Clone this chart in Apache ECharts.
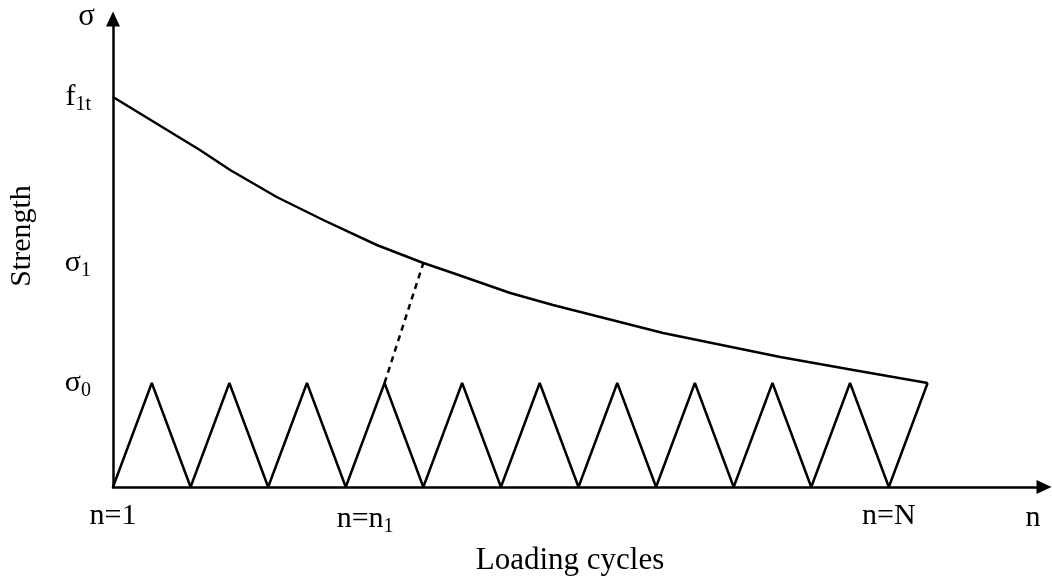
<!DOCTYPE html>
<html>
<head>
<meta charset="utf-8">
<script src="https://cdn.jsdelivr.net/npm/echarts@6/dist/echarts.min.js"></script>
<style>
  html, body { margin: 0; padding: 0; background: #fff; }
  #chart { width: 1052px; height: 583px; }
</style>
</head>
<body>
<div id="chart"></div>
<script>
// Strength degradation curve (n, strength)
const strengthN = [0, 1.12, 1.51, 2.11, 2.71, 3.40, 4.0, 4.38, 5.12, 5.67, 7.09, 8.60, 9.54, 10.5];
const strengthS = [390, 337, 317, 290, 267, 242, 224, 214, 194, 182, 154, 130, 117, 104];

// Cyclic loading: valleys at zero, peaks at sigma0
const loadN = [0, 0.5, 1, 1.5, 2, 2.5, 3, 3.5, 4, 4.5, 5, 5.5, 6, 6.5, 7, 7.5, 8, 8.5, 9, 9.5, 10, 10.5];
const loadS = [0, 104, 0, 104, 0, 104, 0, 104, 0, 104, 0, 104, 0, 104, 0, 104, 0, 104, 0, 104, 0, 104];

// Link from the n1-th load peak up to the strength curve
const linkN = [3.5, 4.0];
const linkS = [104, 224];

// Stress levels marked on the vertical axis
const levelValues = [104, 224, 390];
const levelLabels = ['{b|σ}{sub|0}', '{b|σ}{sub|1}', '{b|f}{sub|1t}'];

// Cycle counts marked on the horizontal axis
const cycleValues = [0, 3.25, 10];
const cycleLabels = ['{b|n=1}', '{b|n=n}{sub|1}', '{b|n=N}'];

const FONT = '"Liberation Serif", "DejaVu Serif", serif';
const rich = {
  b: { fontFamily: FONT, fontSize: 30, color: '#000' },
  sub: { fontFamily: FONT, fontSize: 20, color: '#000', padding: [16, 0, 0, 0] }
};

const zip = (xs, ys) => xs.map((x, i) => [x, ys[i]]);

const chart = echarts.init(document.getElementById('chart'), null, { renderer: 'canvas' });
chart.setOption({
  animation: false,
  backgroundColor: '#fff',
  grid: { left: 113, right: 8, top: 19, bottom: 96 },
  xAxis: {
    type: 'value',
    min: 0,
    max: 12,
    name: 'Loading cycles',
    nameLocation: 'middle',
    nameGap: 58,
    nameTextStyle: { fontFamily: FONT, fontSize: 31, color: '#000', padding: [0, 17, 0, 0] },
    axisLine: { show: true, symbol: ['none', 'triangle'], symbolSize: [14, 15], lineStyle: { color: '#000', width: 2.5 } },
    axisTick: { show: false },
    splitLine: { show: false },
    axisLabel: {
      customValues: cycleValues,
      margin: 14,
      formatter: v => cycleLabels[cycleValues.indexOf(v)] || '',
      rich: rich
    }
  },
  yAxis: {
    type: 'value',
    min: 0,
    max: 468,
    name: 'σ',
    nameLocation: 'end',
    nameGap: 2,
    nameTextStyle: { fontFamily: FONT, fontSize: 31, color: '#000', align: 'right', verticalAlign: 'middle', padding: [0, 18, 0, 0] },
    axisLine: { show: true, symbol: ['none', 'triangle'], symbolSize: [14, 15], lineStyle: { color: '#000', width: 2.5 } },
    axisTick: { show: false },
    splitLine: { show: false },
    axisLabel: {
      customValues: levelValues,
      margin: 22,
      formatter: v => levelLabels[levelValues.indexOf(v)] || '',
      rich: rich
    }
  },
  graphic: [
    {
      type: 'text',
      x: 22, y: 236,
      rotation: Math.PI / 2,
      style: { text: 'Strength', font: '30px ' + FONT, fill: '#000', align: 'center', verticalAlign: 'middle' }
    },
    {
      type: 'text',
      x: 1033, y: 518,
      style: { text: 'n', font: '30px ' + FONT, fill: '#000', align: 'center', verticalAlign: 'middle' }
    }
  ],
  series: [
    {
      type: 'line',
      data: zip(strengthN, strengthS),
      smooth: false,
      showSymbol: false,
      lineStyle: { color: '#000', width: 2.5, join: 'round' }
    },
    {
      type: 'line',
      data: zip(loadN, loadS),
      showSymbol: false,
      lineStyle: { color: '#000', width: 2.5 }
    },
    {
      type: 'line',
      data: zip(linkN, linkS),
      showSymbol: false,
      lineStyle: { color: '#000', width: 2.5, type: [6, 5] }
    }
  ]
});
</script>
</body>
</html>
